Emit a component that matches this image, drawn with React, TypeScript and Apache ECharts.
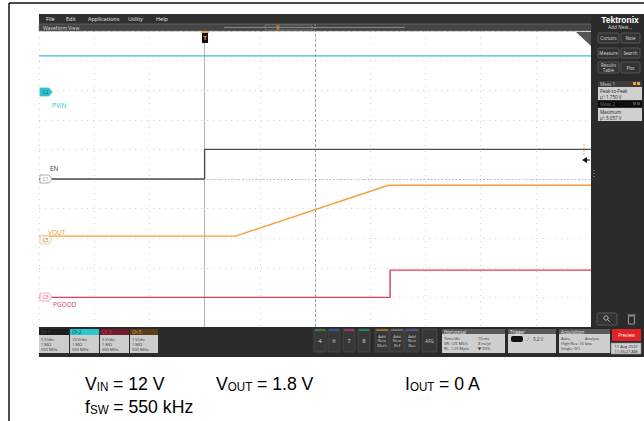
import React, { useEffect, useRef } from 'react';
import * as echarts from 'echarts';

// ---- data (time in ms, trigger at 0; values in volts) ----
const pvinT = [-30, 70];
const pvinV = [12.2, 12.2];
const enT = [-30, 0, 0, 70];
const enV = [0, 0, 5.0, 5.0];
const voutT = [-30, 5.6, 33.3, 70];
const voutV = [0, 0, 1.72, 1.72];
const pgoodT = [-30, 33.6, 33.6, 70];
const pgoodV = [0, 0, 4.6, 4.6];

const channelNames = ['PVIN', 'EN', 'VOUT', 'PGOOD'];
const voltsPerDiv = [10, 5, 1, 5];
const offsetDiv = [2.94, 0, -1.93, -4.0];
const traceColors = ['#33c4cf', '#4d4d4d', '#f5a03a', '#e23a5c'];

const UI = '"Open Sans", "DejaVu Sans", sans-serif';
const TXT = '"Liberation Sans", Arial, sans-serif';

function toDiv(t: number[], v: number[], i: number) {
  return t.map((x, k) => [x, offsetDiv[i] + v[k] / voltsPerDiv[i]]);
}

function txt(x: number, y: number, text: string, size: number, fill: string, o: any = {}) {
  return {
    type: 'text', x, y, z: o.z ?? 120, silent: true,
    scaleX: o.sx ?? 1,
    style: {
      text, fontSize: size, fill, fontFamily: o.ff ?? UI,
      align: o.align ?? 'left', verticalAlign: o.va ?? 'middle',
      fontWeight: o.fw ?? 'normal', lineHeight: o.lh,
    },
  };
}
function rect(x: number, y: number, w: number, h: number, fill: string, stroke = 'none', r = 0, lw = 0.6) {
  return { type: 'rect', z: 110, silent: true, shape: { x, y, width: w, height: h, r }, style: { fill, stroke, lineWidth: lw } };
}
function line(x1: number, y1: number, x2: number, y2: number, stroke: string, lw = 1, dash?: number[]) {
  return { type: 'line', z: 115, silent: true, shape: { x1, y1, x2, y2 }, style: { stroke, lineWidth: lw, lineDash: dash } };
}
function tag(y: number, fill: string, stroke: string, label: string, tc: string) {
  return [
    { type: 'polygon', z: 130, silent: true, shape: { points: [[40, y - 4], [49, y - 4], [52, y], [49, y + 4], [40, y + 4]] }, style: { fill, stroke, lineWidth: 0.8 } },
    txt(45.5, y, label, 4.5, tc, { align: 'center', z: 131 }),
  ];
}
function chBadge(x: number, w: number, hc: string, title: string, tc: string, lines: string[]) {
  return [
    rect(x, 329, w, 6, hc),
    txt(x + 2, 332, title, 4.5, tc),
    rect(x, 335, w, 18, '#cdcdcd'),
    ...lines.map((s, i) => txt(x + 2, 339 + i * 5, s, 4, '#333')),
  ];
}
function infoBox(x: number, w: number, title: string, rows: [string, string][]) {
  return [
    rect(x, 329, w, 5, '#5a5a5a'),
    txt(x + 2, 331.5, title, 4.5, '#eee'),
    rect(x, 334, w, 19, '#cfcfcf'),
    ...rows.flatMap((r, i) => [
      txt(x + 2, 338.5 + i * 5, r[0], 4, '#333'),
      txt(x + 36, 338.5 + i * 5, r[1], 4, '#333'),
    ]),
  ];
}
function btn(x: number, y: number, w: number, h: number, label: string) {
  return [rect(x, y, w, h, '#333', '#707070', 1.5), txt(x + w / 2, y + h / 2, label, 4.5, '#ddd', { align: 'center', lh: 5 })];
}
function numBtn(x: number, label: string, c: string) {
  return [rect(x, 329, 12, 23, '#383838', '#555', 1), rect(x + 1, 329.5, 10, 1.2, c), txt(x + 6, 341, label, 6, '#ddd', { align: 'center' })];
}
function addBtn(x: number, label: string, c: string) {
  return [
    rect(x, 329, 14, 23, '#383838', '#555', 1), rect(x + 1, 329.5, 12, 1.2, c),
    txt(x + 7, 336, 'Add', 4, '#ccc', { align: 'center' }),
    txt(x + 7, 340.5, 'New', 4, '#ccc', { align: 'center' }),
    txt(x + 7, 345, label, 4, '#ccc', { align: 'center' }),
  ];
}
function condLabel(x: number, y: number, main: string, sub: string, rest: string) {
  return {
    type: 'text', x, y, scaleX: 0.93, z: 120, silent: true,
    style: {
      text: `{m|${main}}{s|${sub}}{r|${rest}}`,
      align: 'left', verticalAlign: 'middle',
      rich: {
        m: { fontSize: 19, fontFamily: TXT, fill: '#000', lineHeight: 22 },
        s: { fontSize: 12.5, fontFamily: TXT, fill: '#000', lineHeight: 22, padding: [8, 0, 0, 0] },
        r: { fontSize: 19, fontFamily: TXT, fill: '#000', lineHeight: 22, padding: [0, 0, 0, 5] },
      },
    },
  };
}

export default function App() {
  const ref = useRef<HTMLDivElement>(null);
  useEffect(() => {
    if (!ref.current) return;
    const chart = echarts.init(ref.current, null, { renderer: 'svg', width: 644, height: 421 });
    const datasets = [toDiv(pvinT, pvinV, 0), toDiv(enT, enV, 1), toDiv(voutT, voutV, 2), toDiv(pgoodT, pgoodV, 3)];
    const series: any[] = datasets.map((d, i) => ({
      name: channelNames[i], type: 'line', data: d, showSymbol: false, silent: true,
      lineStyle: { color: traceColors[i], width: 1.4 }, z: 5 + i,
    }));
    series[0].markLine = {
      silent: true, symbol: 'none', label: { show: false },
      data: [
        { xAxis: 20, lineStyle: { color: '#8a8a8a', type: [3, 2], width: 0.8 } },
        { yAxis: 0, lineStyle: { color: '#a8a8a8', type: [1.5, 2], width: 0.8 } },
      ],
    };

    const graphics: any[] = [
      line(9, 3, 644, 3, '#111', 1.5),
      line(9, 3, 9, 421, '#111', 1.5),
      // menu bar
      rect(39, 14, 605, 10, '#2f2f2f'),
      txt(46, 19, 'File', 5.5, '#e8e8e8'),
      txt(66, 19, 'Edit', 5.5, '#e8e8e8'),
      txt(88, 19, 'Applications', 5.5, '#e8e8e8'),
      txt(128, 19, 'Utility', 5.5, '#e8e8e8'),
      txt(156, 19, 'Help', 5.5, '#e8e8e8'),
      // waveform view bar
      rect(39, 24, 552, 7, '#444', '#7a7a7a'),
      txt(43, 27.5, 'Waveform View', 5, '#ddd'),
      line(224, 27.5, 405, 27.5, '#9a9a9a', 0.8),
      rect(265, 25, 47, 5, 'none', '#8a8a8a'),
      rect(276.5, 25, 3, 5, '#b07020'),
      line(315, 24, 315, 31, '#aaa', 0.8, [2, 1]),
      // right panel
      rect(591, 14, 53, 313, '#2b2b2b'),
      txt(620, 19.5, 'Tektronix', 8.5, '#fff', { align: 'center', fw: 'bold', ff: TXT }),
      txt(620, 27, 'Add New...', 4.8, '#ddd', { align: 'center' }),
      ...btn(598, 33, 21, 10, 'Cursors'),
      ...btn(621, 33, 19, 10, 'Note'),
      ...btn(598, 48, 21, 10, 'Measure'),
      ...btn(621, 48, 19, 10, 'Search'),
      ...btn(598, 62, 21, 11, 'Results\nTable'),
      ...btn(621, 62, 19, 11, 'Plot'),
      rect(598, 81, 44, 6, '#3c3c3c'),
      txt(600, 84, 'Meas 1', 4.5, '#ccc'),
      rect(633, 82, 3, 3, '#f7a23c'), rect(637, 82, 3, 3, '#f7a23c'),
      rect(598, 87, 44, 13, '#d0d0d0'),
      txt(600, 90.5, 'Peak-to-Peak', 4.5, '#222'),
      txt(600, 96.5, "\u00b5': 1.750 V", 4.5, '#222'),
      rect(598, 101, 44, 6, '#0d0d0d'),
      txt(600, 104, 'Meas 2', 4.5, '#666'),
      rect(633, 102, 3, 3, '#444'), rect(637, 102, 3, 3, '#444'),
      rect(598, 108, 44, 13, '#d0d0d0'),
      txt(600, 111.5, 'Maximum', 4.5, '#222'),
      txt(600, 117.5, "\u00b5': 5.057 V", 4.5, '#222'),
      rect(593.5, 170, 1, 1, '#aaa'), rect(593.5, 173, 1, 1, '#aaa'), rect(593.5, 176, 1, 1, '#aaa'),
      rect(597, 313, 20, 12, '#333', '#777', 1.5),
      { type: 'circle', z: 120, silent: true, shape: { cx: 606, cy: 318, r: 2.2 }, style: { fill: 'none', stroke: '#ccc', lineWidth: 0.8 } },
      line(607.5, 319.5, 610, 322, '#ccc', 0.8),
      rect(628.5, 316, 6, 8, 'none', '#bbb', 0.5, 0.8),
      line(627.5, 315, 635.5, 315, '#bbb', 0.8),
      // bottom panel
      rect(39, 327, 605, 30, '#2b2b2b'),
      ...chBadge(39, 30, '#1c1c1c', 'Ch 1', '#555', ['5 V/div', '1 M\u03a9', '500 MHz']),
      ...chBadge(70, 29, '#2ec4d0', 'Ch 2', '#0b4e56', ['10 V/div', '1 M\u03a9', '500 MHz']),
      ...chBadge(100, 29, '#6e1c2c', 'Ch 3', '#e8365a', ['5 V/div', '1 M\u03a9', '500 MHz']),
      ...chBadge(130, 28, '#5a3e16', 'Ch 5', '#f7a23c', ['1 V/div', '1 M\u03a9', '500 MHz']),
      ...numBtn(314, '4', '#3fa34d'),
      ...numBtn(328, '6', '#3d5bd9'),
      ...numBtn(343, '7', '#c2408f'),
      ...numBtn(358, '8', '#2fa36b'),
      ...addBtn(375, 'Math', '#d88a2a'),
      ...addBtn(390, 'Ref', '#8a8a8a'),
      ...addBtn(405, 'Bus', '#8a4ad0'),
      rect(422, 329, 15, 23, '#383838', '#555', 1),
      txt(429.5, 341, 'AFG', 4.5, '#ccc', { align: 'center' }),
      ...infoBox(442, 63, 'Horizontal', [['Time/div', '10 ms'], ['SR: 125 MS/s', '8 ns/pt'], ['RL: 1.25 Mpts', '\u25bc 30%']]),
      rect(508, 329, 48, 5, '#5a5a5a'),
      txt(510, 331.5, 'Trigger', 4.5, '#eee'),
      rect(508, 334, 48, 19, '#cfcfcf'),
      rect(511, 336, 12, 6, '#111', 'none', 2),
      txt(527, 339, '\u2215', 5, '#3a5fcf'),
      txt(533, 339, '3.2 V', 4.5, '#333'),
      rect(559, 329, 51, 5, '#5a5a5a'),
      txt(561, 331.5, 'Acquisition', 4.5, '#eee'),
      rect(559, 334, 51, 19, '#cfcfcf'),
      txt(561, 338.5, 'Auto,', 4, '#333'),
      txt(585, 338.5, 'Analyze', 4, '#333'),
      txt(561, 343.5, 'High Res: 16 bits', 4, '#333'),
      txt(561, 348.5, 'Single: 0/1', 4, '#333'),
      rect(612, 329, 29, 12, '#e32228'),
      txt(626.5, 335, 'Preview', 4.5, '#fff', { align: 'center' }),
      rect(611, 343, 30, 11, '#cfcfcf', '#888'),
      txt(626, 346, '11 Aug 2022', 4, '#222', { align: 'center' }),
      txt(626, 351, '11:35:27 AM', 4, '#222', { align: 'center' }),
      // plot overlays
      rect(201, 31, 8, 2, '#f7a23c'),
      rect(202, 33, 6, 10, '#111'),
      txt(205, 38, 'T', 6, '#f7a23c', { align: 'center', fw: 'bold' }),
      { type: 'polygon', z: 120, silent: true, shape: { points: [[576, 32], [591, 32], [591, 46]] }, style: { fill: '#555' } },
      line(584, 144, 584, 156, '#f7a23c', 0.8, [2, 1]),
      { type: 'polygon', z: 120, silent: true, shape: { points: [[582, 160], [587, 157], [587, 163]] }, style: { fill: '#111' } },
      line(587, 160, 590, 160, '#111', 1),
      ...tag(92, '#2ec4d0', '#2ec4d0', 'C2', '#0b5e66'),
      ...tag(179, '#ffffff', '#9a9a9a', 'C1', '#777'),
      ...tag(240, '#fff6ea', '#f3c58a', 'C5', '#8a6a40'),
      ...tag(297, '#fff0f3', '#f2a2b4', 'C3', '#d05070'),
      txt(52, 105, 'PVIN', 6.5, '#2ec4d0'),
      txt(50, 168, 'EN', 6.5, '#333'),
      txt(48, 232, 'VOUT', 6.5, '#e8962e'),
      txt(53, 304, 'PGOOD', 6.5, '#d83a5a'),
      // conditions text
      condLabel(85, 383, 'V', 'IN', '= 12 V'),
      condLabel(216, 383, 'V', 'OUT', '= 1.8 V'),
      condLabel(405, 383, 'I', 'OUT', '= 0 A'),
      condLabel(85, 406, 'f', 'SW', '= 550 kHz'),
    ];

    chart.setOption({
      animation: false,
      backgroundColor: '#ffffff',
      grid: { left: 39, top: 31, width: 552, height: 296, containLabel: false },
      xAxis: {
        type: 'value', min: -30, max: 70, interval: 10,
        axisLine: { show: false }, axisTick: { show: false }, axisLabel: { show: false },
        splitLine: { show: true, lineStyle: { color: '#cfcfcf', type: [1, 5], width: 1 } },
      },
      yAxis: {
        type: 'value', min: -5, max: 5, interval: 1,
        axisLine: { show: true, lineStyle: { color: '#b4b4b4', width: 1 } },
        axisTick: { show: false }, axisLabel: { show: false },
        splitLine: { show: true, lineStyle: { color: '#cfcfcf', type: [1, 5], width: 1 } },
      },
      series,
      graphic: graphics,
    });
    return () => chart.dispose();
  }, []);
  return <div ref={ref} style={{ position: 'fixed', left: 0, top: 0, width: 644, height: 421, background: '#fff' }} />;
}
